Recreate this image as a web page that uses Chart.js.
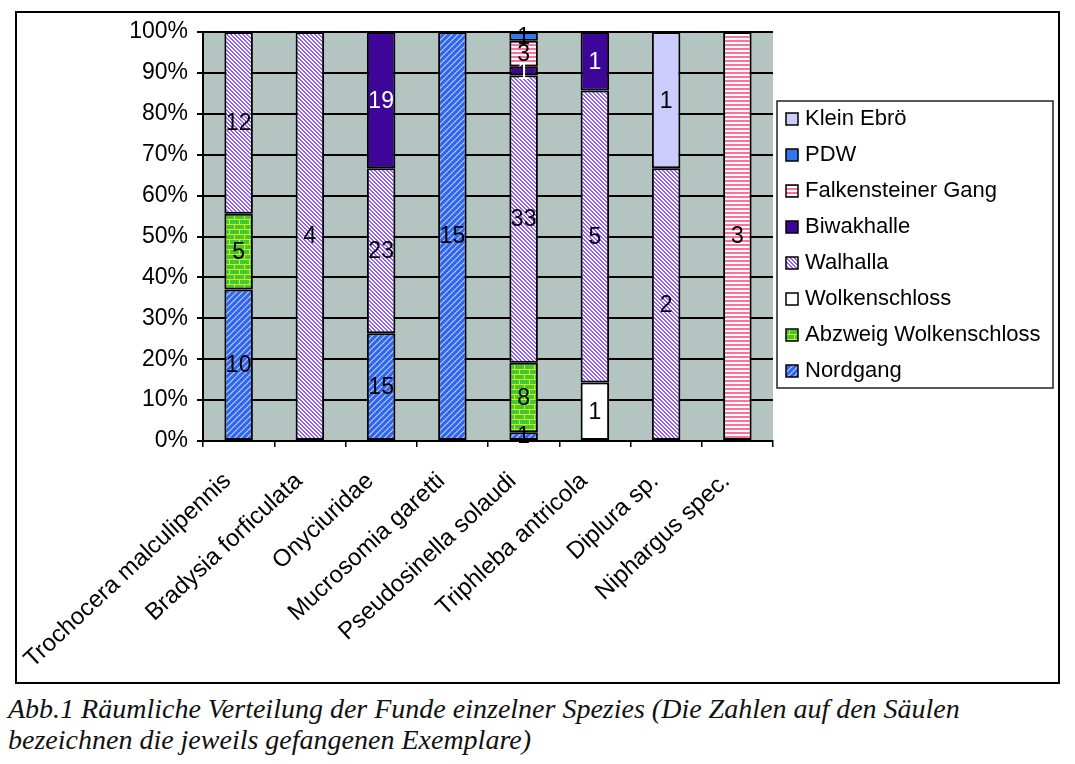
<!DOCTYPE html>
<html>
<head>
<meta charset="utf-8">
<script src="https://cdn.jsdelivr.net/npm/chart.js@4.4.1/dist/chart.umd.min.js"></script>
<style>
  body { margin: 0; background: #fff; width: 1075px; height: 764px; position: relative; overflow: hidden; }
  #frame { position: absolute; left: 15px; top: 11px; width: 1041px; height: 669px; border: 2px solid #000; }
  #chart { position: absolute; left: 0; top: 0; }
  #caption { position: absolute; left: 8px; top: 693px; font-family: 'Liberation Serif', 'Times New Roman', serif;
             font-style: italic; font-size: 28px; line-height: 31px; color: #111; white-space: nowrap; }
</style>
</head>
<body>
<div id="frame"></div>
<canvas id="chart" width="1075" height="690"></canvas>
<div id="caption">Abb.1 Räumliche Verteilung der Funde einzelner Spezies (Die Zahlen auf den Säulen<br>bezeichnen die jeweils gefangenen Exemplare)</div>
<script>
// Species (x categories)
const categories = ['Trochocera malculipennis', 'Bradysia forficulata', 'Onyciuridae', 'Mucrosomia garetti',
    'Pseudosinella solaudi', 'Triphleba antricola', 'Diplura sp.', 'Niphargus spec.'];

// Counts per site (bottom of stack first)
const nordgang      = [10, 0, 15, 15, 1, 0, 0, 0];
const abzweig       = [5, 0, 0, 0, 8, 0, 0, 0];
const wolkenschloss = [0, 0, 0, 0, 0, 1, 0, 0];
const walhalla      = [12, 4, 23, 0, 33, 5, 2, 0];
const biwakhalle    = [0, 0, 19, 0, 1, 1, 0, 0];
const falkenstein   = [0, 0, 0, 0, 3, 0, 0, 3];
const pdw           = [0, 0, 0, 0, 1, 0, 0, 0];
const kleinEbro     = [0, 0, 0, 0, 0, 0, 1, 0];

const yTicks = [0, 10, 20, 30, 40, 50, 60, 70, 80, 90, 100];

const FONT = "'Liberation Sans', Arial, sans-serif";

function makePattern(size, draw) {
    const c = document.createElement('canvas');
    c.width = size; c.height = size;
    const g = c.getContext('2d');
    draw(g, size);
    return document.getElementById('chart').getContext('2d').createPattern(c, 'repeat');
}

// Walhalla: purple "\" hatching on white
const walhallaFill = makePattern(4, (g, s) => {
    g.fillStyle = '#ffffff'; g.fillRect(0, 0, s, s);
    g.fillStyle = '#9460f8';
    for (let i = 0; i < s; i++) { g.fillRect(i, i, 1, 1); g.fillRect((i + 1) % s, i, 1, 1); }
});
// Nordgang: blue with lighter "/" stripes
const nordgangFill = makePattern(6, (g, s) => {
    g.fillStyle = '#3366ee'; g.fillRect(0, 0, s, s);
    g.fillStyle = '#94b4ff';
    for (let i = 0; i < s; i++) { g.fillRect(s - 1 - i, i, 1, 1); g.fillRect((s - i) % s, i, 1, 1); }
});
// Abzweig Wolkenschloss: green bricks on yellow
const abzweigFill = makePattern(10, (g, s) => {
    g.fillStyle = '#d8f000'; g.fillRect(0, 0, s, s);
    g.fillStyle = '#3fc83f';
    g.fillRect(0, 0, 9, 4);
    g.fillRect(5, 5, 9, 4); g.fillRect(0, 5, 4, 4);
});
// Falkensteiner Gang: pink horizontal stripes
const falkFill = makePattern(4, (g, s) => {
    g.fillStyle = '#ffffff'; g.fillRect(0, 0, s, s);
    g.fillStyle = '#ff6f98'; g.fillRect(0, 0, s, 2);
});

const series = [
    { label: 'Nordgang', counts: nordgang, fill: nordgangFill, text: '#000' },
    { label: 'Abzweig Wolkenschloss', counts: abzweig, fill: abzweigFill, text: '#000' },
    { label: 'Wolkenschloss', counts: wolkenschloss, fill: '#ffffff', text: '#000' },
    { label: 'Walhalla', counts: walhalla, fill: walhallaFill, text: '#000' },
    { label: 'Biwakhalle', counts: biwakhalle, fill: '#3e0698', text: '#fff' },
    { label: 'Falkensteiner Gang', counts: falkenstein, fill: falkFill, text: '#000' },
    { label: 'PDW', counts: pdw, fill: '#3377ee', text: '#000' },
    { label: 'Klein Ebrö', counts: kleinEbro, fill: '#ccccff', text: '#000' }
];

const totals = categories.map((_, i) => series.reduce((s, d) => s + d.counts[i], 0));

const datasets = series.map(s => ({
    label: s.label,
    data: s.counts.map((c, i) => c ? c / totals[i] * 100 : null),
    counts: s.counts,
    textColor: s.text,
    backgroundColor: s.fill,
    borderColor: '#000',
    borderWidth: 2,
    borderSkipped: false,
    barPercentage: 0.4,
    categoryPercentage: 1
}));

const plotBg = {
    id: 'plotBg',
    beforeDraw(chart) {
        const a = chart.chartArea, ctx = chart.ctx;
        ctx.save();
        ctx.fillStyle = '#b4c4c0';
        ctx.fillRect(a.left, a.top, a.right - a.left, a.bottom - a.top);
        ctx.restore();
    }
};

const countLabels = {
    id: 'countLabels',
    afterDatasetsDraw(chart) {
        const ctx = chart.ctx;
        ctx.save();
        ctx.font = '23px ' + FONT;
        ctx.textAlign = 'center';
        ctx.textBaseline = 'middle';
        chart.data.datasets.forEach((ds, di) => {
            chart.getDatasetMeta(di).data.forEach((el, i) => {
                const n = ds.counts[i];
                if (!n) return;
                ctx.fillStyle = ds.textColor;
                ctx.fillText(String(n), el.x, (el.y + el.base) / 2 + 1);
            });
        });
        ctx.restore();
    }
};

const boxLegend = {
    id: 'boxLegend',
    afterDraw(chart) {
        const ctx = chart.ctx;
        const x0 = 777, y0 = 101, w = 276, h = 287;
        ctx.save();
        ctx.fillStyle = '#fff';
        ctx.fillRect(x0, y0, w, h);
        ctx.strokeStyle = '#222';
        ctx.lineWidth = 1.5;
        ctx.strokeRect(x0, y0, w, h);
        ctx.font = '22px ' + FONT;
        ctx.textBaseline = 'middle';
        const items = chart.data.datasets.slice().reverse();
        items.forEach((ds, k) => {
            const cy = y0 + 18 + k * 36;
            ctx.fillStyle = ds.backgroundColor;
            ctx.fillRect(786, cy - 6, 12, 12);
            ctx.strokeStyle = '#000';
            ctx.lineWidth = 1.5;
            ctx.strokeRect(786, cy - 6, 12, 12);
            ctx.fillStyle = '#000';
            ctx.fillText(ds.label, 805, cy);
        });
        ctx.restore();
    }
};

new Chart(document.getElementById('chart'), {
    type: 'bar',
    data: { labels: categories, datasets: datasets },
    plugins: [plotBg, countLabels, boxLegend],
    options: {
        responsive: false,
        animation: false,
        layout: { padding: { left: 0, top: 32, right: 302, bottom: 9 } },
        plugins: { legend: { display: false }, tooltip: { enabled: false } },
        scales: {
            x: {
                stacked: true,
                grid: { drawOnChartArea: false, color: '#000', lineWidth: 1.5, tickLength: 6 },
                border: { color: '#000', width: 2 },
                ticks: { color: '#000', font: { family: FONT, size: 24 }, minRotation: 43, maxRotation: 43,
                         autoSkip: false, padding: 20, labelOffset: -11 },
                afterFit(scale) { scale.height = 240; }
            },
            y: {
                stacked: true,
                min: 0, max: 100,
                afterBuildTicks(scale) { scale.ticks = yTicks.map(v => ({ value: v })); },
                grid: { color: '#000', lineWidth: 2, tickLength: 6 },
                border: { color: '#000', width: 2 },
                ticks: { color: '#000', font: { family: FONT, size: 23 }, padding: 9, callback: v => v + '%' },
                afterFit(scale) { scale.width = 203; }
            }
        }
    }
});
</script>
</body>
</html>
